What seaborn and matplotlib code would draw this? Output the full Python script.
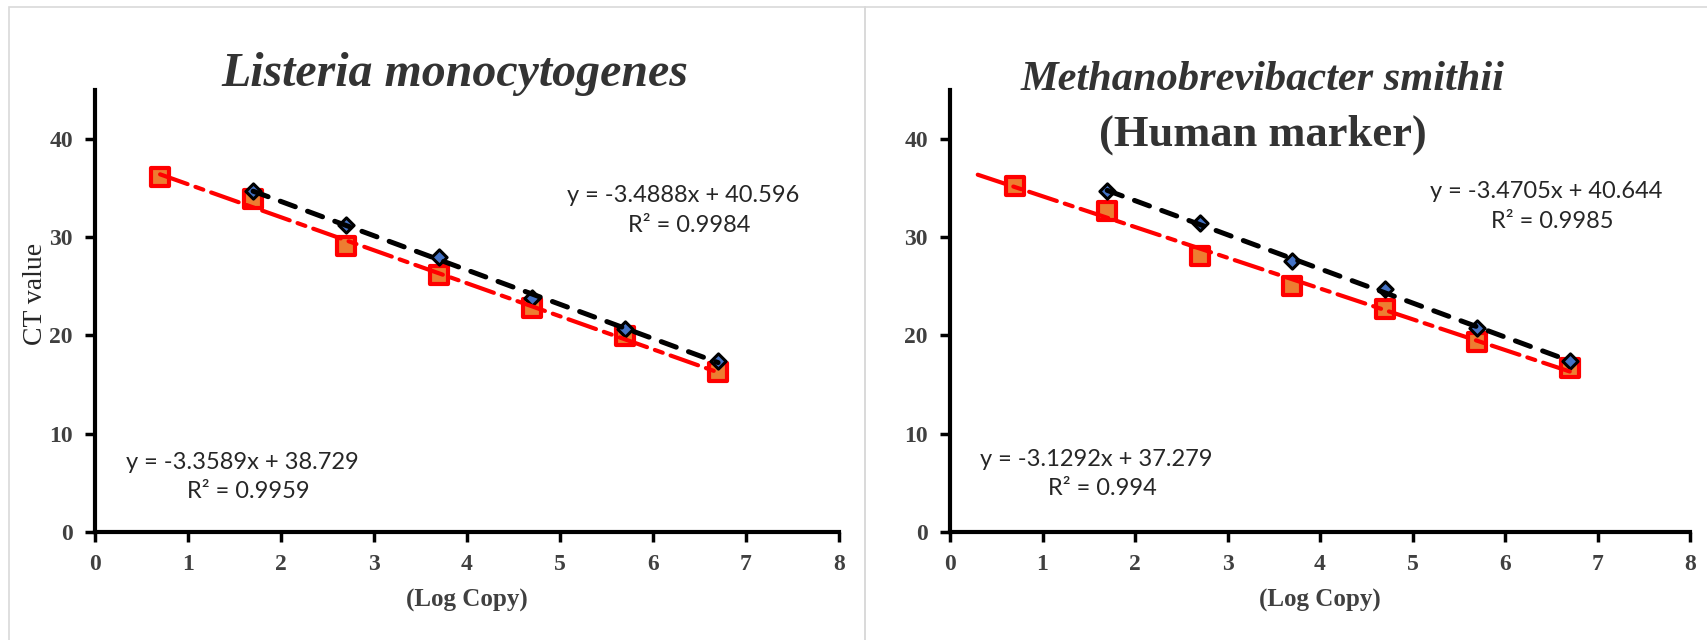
import numpy as np
import pandas as pd
import matplotlib
matplotlib.use("Agg")
import matplotlib.pyplot as plt
from matplotlib.patches import Rectangle
import seaborn as sns

sns.set_theme(style="white")
plt.rcParams["font.family"] = ["Liberation Serif", "DejaVu Serif"]

# ---- data ----
log_copy_black = [1.7, 2.7, 3.7, 4.7, 5.7, 6.7]
log_copy_red = [0.7, 1.7, 2.7, 3.7, 4.7, 5.7, 6.7]

listeria_black_ct = [34.7, 31.2, 28.0, 23.8, 20.6, 17.4]
listeria_red_ct = [36.1, 33.9, 29.1, 26.1, 22.8, 19.9, 16.3]

smithii_black_ct = [34.7, 31.4, 27.6, 24.7, 20.7, 17.4]
smithii_red_ct = [35.2, 32.6, 28.1, 25.0, 22.7, 19.3, 16.7]

# trendline coefficients (slope, intercept, R²)
listeria_black_fit = (-3.4888, 40.596, 0.9984)
listeria_red_fit = (-3.3589, 38.729, 0.9959)
smithii_black_fit = (-3.4705, 40.644, 0.9985)
smithii_red_fit = (-3.1292, 37.279, 0.994)

x_ticks = [0, 1, 2, 3, 4, 5, 6, 7, 8]
y_ticks = [0, 10, 20, 30, 40]

BLUE = "#4472C4"
ORANGE = "#ED7D31"
RED = "#FF0000"
TEXT = "#333333"

fig = plt.figure(figsize=(17.07, 6.4), dpi=100)

# chart-area frames
W, H = 1707, 640
for x0, x1 in [(9, 865), (865, 1720)]:
    fig.patches.append(Rectangle((x0 / W, 0 - 0.01), (x1 - x0) / W, (640 - 7) / H + 0.01,
                                 transform=fig.transFigure, fill=False,
                                 edgecolor="#d9d9d9", linewidth=1.2, zorder=0))

ax_l = fig.add_axes([95 / W, 0.169, (839 - 95) / W, 0.691])
ax_r = fig.add_axes([950 / W, 0.169, (1690 - 950) / W, 0.691])


def trend_frame(fit, x_start, x_end):
    xs = np.array([x_start, x_end])
    return pd.DataFrame({"x": xs, "y": fit[0] * xs + fit[1]})


def draw_panel(ax, black_ct, red_ct, black_fit, red_fit, red_start,
               black_eq_pos, red_eq_pos):
    df_b = pd.DataFrame({"x": log_copy_black, "y": black_ct})
    df_r = pd.DataFrame({"x": log_copy_red, "y": red_ct})

    sns.scatterplot(data=df_r, x="x", y="y", ax=ax, marker="s", s=160,
                    color=ORANGE, edgecolor=RED, linewidth=3, zorder=3)
    sns.scatterplot(data=df_b, x="x", y="y", ax=ax, marker="D", s=60,
                    color=BLUE, edgecolor="black", linewidth=2.2, zorder=4)

    tr = trend_frame(red_fit, red_start, log_copy_red[-1])
    sns.lineplot(data=tr, x="x", y="y", ax=ax, color=RED, linewidth=3,
                 dashes=False, zorder=5,
                 **{"linestyle": (0, (7, 2, 2, 2)), "dash_capstyle": "round"})
    tb = trend_frame(black_fit, log_copy_black[0], log_copy_black[-1])
    sns.lineplot(data=tb, x="x", y="y", ax=ax, color="black", linewidth=3.6,
                 dashes=False, zorder=6,
                 **{"linestyle": (0, (3.2, 2.6)), "dash_capstyle": "round"})

    eq_kw = dict(ha="center", va="center", fontsize=17,
                 family=["Lato", "DejaVu Sans"], color="#262626")
    for fit, (ex, ey) in [(black_fit, black_eq_pos), (red_fit, red_eq_pos)]:
        ax.text(ex, ey, f"y = {fit[0]}x + {fit[1]}", **eq_kw)
        ax.text(ex + 0.07, ey - 3.0, f"R² = {fit[2]}", **eq_kw)

    ax.set_xlim(0, 8)
    ax.set_ylim(0, 45)
    ax.set_xticks(x_ticks)
    ax.set_yticks(y_ticks)
    for lab in ax.get_xticklabels() + ax.get_yticklabels():
        lab.set_fontweight("bold")
        lab.set_fontsize(17)
    ax.tick_params(axis="both", direction="out", length=7, width=2.5,
                   color="black", labelcolor="#404040", pad=9,
                   bottom=True, left=True)
    ax.set_xlabel("(Log Copy)", fontsize=18, fontweight="bold",
                  color="#404040", labelpad=10)
    ax.set_ylabel("")
    for s in ["top", "right"]:
        ax.spines[s].set_visible(False)
    for s in ["left", "bottom"]:
        ax.spines[s].set_visible(True)
        ax.spines[s].set_color("black")
        ax.spines[s].set_linewidth(3)
    ax.grid(False)
    ax.set_facecolor("white")


draw_panel(ax_l, listeria_black_ct, listeria_red_ct, listeria_black_fit,
           listeria_red_fit, 0.7, (6.32, 34.2), (1.58, 7.1))
draw_panel(ax_r, smithii_black_ct, smithii_red_ct, smithii_black_fit,
           smithii_red_fit, 0.3, (6.44, 34.6), (1.58, 7.4))

fig.text(36 / W, 1 - 294 / H, "CT value", rotation=90, ha="center",
         va="center", fontsize=20, color="#262626")

fig.text(455 / W, 1 - 74 / H, "Listeria monocytogenes", ha="center",
         va="center", fontsize=34.5, fontweight="bold", style="italic",
         color=TEXT)
fig.text(1263 / W, 1 - 80 / H, "Methanobrevibacter smithii", ha="center",
         va="center", fontsize=30.5, fontweight="bold", style="italic",
         color=TEXT)
fig.text(1263 / W, 1 - 135 / H, "(Human marker)", ha="center",
         va="center", fontsize=32, fontweight="bold", color=TEXT)

fig.savefig("out.png", dpi=100, facecolor="white")
